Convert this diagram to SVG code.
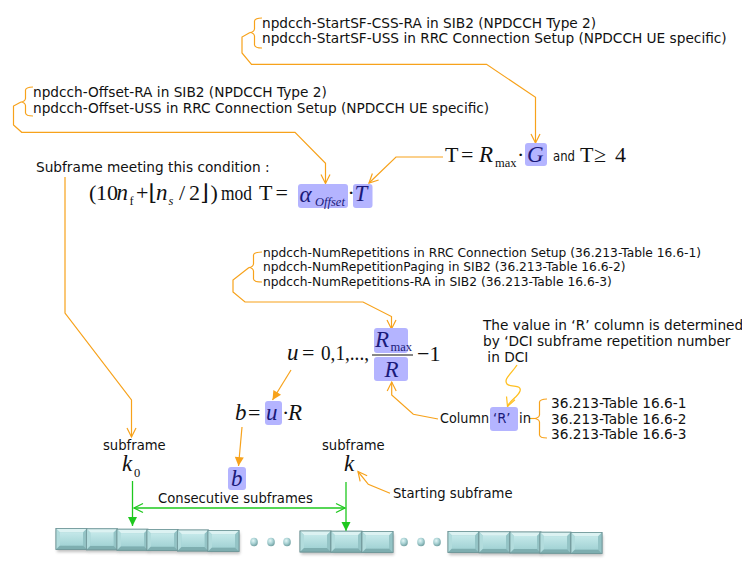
<svg xmlns="http://www.w3.org/2000/svg" xmlns:xlink="http://www.w3.org/1999/xlink" width="742" height="562" viewBox="0 0 742 562">
<style>
.t{font-family:"DejaVu Sans",Verdana,sans-serif;font-size:13.7px;fill:#111}
.tn{font-family:"DejaVu Sans",Verdana,sans-serif;font-size:13.2px;fill:#111}
.ts{font-family:"DejaVu Sans",Verdana,sans-serif;font-size:12.25px;fill:#111}
.m{font-family:"Liberation Serif","DejaVu Serif",serif;font-size:22px;fill:#111}
.mi{font-family:"Liberation Serif","DejaVu Serif",serif;font-size:23px;font-style:italic;fill:#111}
.mb{font-family:"Liberation Serif","DejaVu Serif",serif;font-size:23px;font-style:italic;fill:#1a1a7a}
.sub{font-family:"Liberation Serif","DejaVu Serif",serif;font-size:12.5px;fill:#111}
.hl{fill:#b4b4ff}
.oc{fill:none;stroke:#f7a21b;stroke-width:1.2}
.gc{fill:none;stroke:#1ec81e;stroke-width:1.3}
</style>
<defs>
<marker id="ao" markerUnits="userSpaceOnUse" markerWidth="14" markerHeight="14" viewBox="-2 -7 14 14" refX="9" refY="0" orient="auto"><path d="M0,-4.5 L9,0 L0,4.5" fill="none" stroke="#f7a21b" stroke-width="1.2"/></marker>
<marker id="af" markerUnits="userSpaceOnUse" markerWidth="14" markerHeight="14" viewBox="-2 -7 14 14" refX="9" refY="0" orient="auto"><path d="M0,-4.5 L9,0 L0,4.5 Z" fill="#f7a21b"/></marker>
<marker id="ay" markerUnits="userSpaceOnUse" markerWidth="14" markerHeight="14" viewBox="-2 -7 14 14" refX="9" refY="0" orient="auto"><path d="M0,-4.5 L9,0 L0,4.5" fill="none" stroke="#ffbf1f" stroke-width="1.2"/></marker>
<marker id="go" markerUnits="userSpaceOnUse" markerWidth="14" markerHeight="14" viewBox="-2 -7 14 14" refX="9" refY="0" orient="auto-start-reverse"><path d="M0,-4.5 L9,0 L0,4.5" fill="none" stroke="#1ec81e" stroke-width="1.3"/></marker>
<marker id="gf" markerUnits="userSpaceOnUse" markerWidth="14" markerHeight="14" viewBox="-2 -7 14 14" refX="9" refY="0" orient="auto"><path d="M0,-4.5 L9,0 L0,4.5 Z" fill="#1ec81e"/></marker>
<linearGradient id="face" x1="0" y1="0" x2="0" y2="1"><stop offset="0" stop-color="#c4e8e9"/><stop offset="1" stop-color="#a3d3d5"/></linearGradient>
<radialGradient id="dot" cx="0.4" cy="0.35" r="0.7"><stop offset="0" stop-color="#e4f6f6"/><stop offset="0.5" stop-color="#a9d2d4"/><stop offset="1" stop-color="#6b9a9c"/></radialGradient>
<filter id="sh" x="-20%" y="-20%" width="140%" height="160%"><feGaussianBlur stdDeviation="1.5"/></filter>
<g id="blk">
<rect x="1" y="2.5" width="31" height="21" fill="#808080" opacity="0.5" filter="url(#sh)"/>
<rect x="0" y="0" width="31" height="21" fill="#9fcfd1" stroke="#6f9698" stroke-width="0.8"/>
<polygon points="0,0 31,0 27,4 4,4" fill="#dcf2f2"/>
<polygon points="0,0 4,4 4,17 0,21" fill="#b2dcdd"/>
<polygon points="31,0 27,4 27,17 31,21" fill="#94c4c6"/>
<polygon points="0,21 4,17 27,17 31,21" fill="#7eaeb0"/>
<rect x="4" y="4" width="23" height="13" fill="url(#face)"/>
<rect x="0" y="0" width="31" height="21" fill="none" stroke="#6f9698" stroke-width="0.8"/>
</g>
</defs>
<rect width="742" height="562" fill="#ffffff"/>

<g id="connectors">
<path class="oc" d="M262,18 Q255,18 254.5,21 L254.5,29 Q254,32 250,32.5 Q254,33 254.5,36 L254.5,45 Q255,48 262,48"/>
<path class="oc" d="M250,32.5 L242,37 L242,53 L251.5,64.3 L486.5,64.3 L535.5,97.3 L535.5,143" marker-end="url(#ao)"/>
<path class="oc" d="M33,87 Q26,87 25.5,90 L25.5,98.5 Q25,101.5 21,102 Q25,102.5 25.5,105.5 L25.5,113 Q26,116 33,116"/>
<path class="oc" d="M21,102 L13.5,106 L13.5,125 L21.7,132.3 L295,132.3 L325.5,163.3 L325.5,183.5" marker-end="url(#ao)"/>
<path class="oc" d="M443,157 L396,157 L369,183" marker-end="url(#ao)"/>
<path class="oc" d="M65,177 L65,313 L131.5,400 L131.5,437" marker-end="url(#ao)"/>
<path class="oc" d="M262,252 Q254,252 253.5,255 L253.5,264 Q253,267 249,267.5 Q253,268 253.5,271 L253.5,279 Q254,282 262,282"/>
<path class="oc" d="M249,267.5 L233,280 L233,292 L245,302 L363,302 L391.5,316.5 L391.5,329" marker-end="url(#ao)"/>
<path class="oc" d="M291,370 L272.5,400" marker-end="url(#af)"/>
<path class="oc" d="M242,427 L238.5,466" marker-end="url(#af)"/>
<path class="oc" d="M438,419 L413.3,414.3 L391.7,395 L391.7,382" marker-end="url(#ao)"/>
<path class="oc" d="M547,399 Q540,399 539.5,402 L539.5,415 Q539,418 534,418.5 Q539,419 539.5,422 L539.5,435 Q540,438 547,438"/>
<path class="oc" d="M529,418.5 L534,418.5"/>
<path d="M517,365 C512,373 503,379 507,384 C511,388 522,384 520,391 C518,397 510,400 507.5,406.5" fill="none" stroke="#ffbf1f" stroke-width="1.3" marker-end="url(#ay)"/>
<path class="oc" d="M390,493.3 L368.3,484.3 L358,471.5" marker-end="url(#ao)"/>
<path class="gc" d="M132.5,481 L132.5,526" marker-end="url(#gf)"/>
<path class="gc" d="M346,482 L346,531" marker-end="url(#gf)"/>
<path class="gc" d="M134,508 L345,508" marker-start="url(#go)" marker-end="url(#go)"/>
</g>

<g id="startsf-note">
<text class="t" x="262" y="27.5">npdcch-StartSF-CSS-RA in SIB2 (NPDCCH Type 2)</text>
<text class="t" x="262" y="43">npdcch-StartSF-USS in RRC Connection Setup (NPDCCH UE specific)</text>
</g>
<g id="offset-note">
<text class="t" x="33" y="97.3">npdcch-Offset-RA in SIB2 (NPDCCH Type 2)</text>
<text class="t" x="33" y="113.3">npdcch-Offset-USS in RRC Connection Setup (NPDCCH UE specific)</text>
</g>

<g id="formula-T">
<text class="m" x="445" y="162">T</text>
<text class="m" x="461" y="162">=</text>
<text class="mi" x="479" y="162">R</text>
<text class="sub" x="495" y="167">max</text>
<text class="m" x="517" y="162">·</text>
<rect class="hl" x="525" y="143" width="22" height="23" rx="3"/>
<text class="mb" x="527" y="162">G</text>
<text class="tn" x="553" y="161" textLength="22" lengthAdjust="spacingAndGlyphs">and</text>
<text class="m" x="580" y="162">T</text>
<text class="m" x="594" y="162">≥</text>
<text class="m" x="615" y="162">4</text>
</g>

<g id="condition">
<text class="t" x="36" y="171.5">Subframe meeting this condition :</text>
<text class="m" x="89" y="200" font-size="21">(</text>
<text class="m" x="96" y="200" font-size="20">10</text>
<text class="mi" x="116.5" y="200">n</text>
<text class="sub" x="129.5" y="204.5">f</text>
<text class="m" x="136" y="200">+</text>
<text class="m" x="148.5" y="200">⌊</text>
<text class="mi" x="156" y="200">n</text>
<text class="sub" x="168.5" y="204.5" font-style="italic">s</text>
<text class="m" x="179" y="200">/</text>
<text class="m" x="189" y="200">2</text>
<text class="m" x="200" y="200">⌋</text>
<text class="m" x="210.5" y="200">)</text>
<text class="m" x="221" y="200" textLength="31" lengthAdjust="spacingAndGlyphs">mod</text>
<text class="m" x="259" y="200">T</text>
<text class="m" x="275.5" y="200">=</text>
<rect class="hl" x="298" y="184" width="50" height="24" rx="3"/>
<text class="mb" x="299.5" y="202">α</text>
<text class="sub" x="315" y="206" font-style="italic" style="fill:#1a1a7a">Offset</text>
<text class="m" x="347.5" y="200">·</text>
<rect class="hl" x="353" y="184" width="19.5" height="24" rx="3"/>
<text class="mb" x="354.5" y="201">T</text>
</g>

<g id="numrep-note">
<text class="ts" x="263" y="256.7">npdcch-NumRepetitions in RRC Connection Setup (36.213-Table 16.6-1)</text>
<text class="ts" x="263" y="270.7">npdcch-NumRepetitionPaging in SIB2 (36.213-Table 16.6-2)</text>
<text class="ts" x="263" y="285.7">npdcch-NumRepetitions-RA in SIB2 (36.213-Table 16.6-3)</text>
</g>

<g id="formula-u">
<text class="mi" x="287" y="360">u</text>
<text class="m" x="302" y="360">=</text>
<text class="m" x="321" y="360" textLength="48" lengthAdjust="spacingAndGlyphs">0,1,...,</text>
<rect class="hl" x="374" y="328" width="34" height="25" rx="3"/>
<text class="mb" x="375" y="347">R</text>
<text class="sub" x="390.5" y="351" style="fill:#1a1a7a">max</text>
<line x1="372" y1="355" x2="413" y2="355" stroke="#111" stroke-width="1.2"/>
<rect class="hl" x="374" y="357" width="34" height="24" rx="3"/>
<text class="mb" x="384.5" y="377">R</text>
<text class="m" x="417" y="361">−1</text>
</g>

<g id="dci-note">
<text class="t" x="483" y="330">The value in ‘R’ column is determined</text>
<text class="t" x="483" y="346">by ‘DCI subframe repetition number</text>
<text class="t" x="483" y="362" xml:space="preserve"> in DCI</text>
</g>

<g id="column-r">
<rect class="hl" x="490" y="407" width="28" height="24" rx="3"/>
<text class="tn" x="440" y="423" textLength="49" lengthAdjust="spacingAndGlyphs">Column</text>
<text class="tn" x="493" y="423" style="fill:#1a1a7a">‘R’</text>
<text class="tn" x="519" y="423">in</text>
</g>

<g id="tables">
<text class="t" x="551" y="408">36.213-Table 16.6-1</text>
<text class="t" x="551" y="423.5">36.213-Table 16.6-2</text>
<text class="t" x="551" y="439">36.213-Table 16.6-3</text>
</g>

<g id="formula-b">
<text class="mi" x="235" y="420">b</text>
<text class="m" x="248" y="420">=</text>
<rect class="hl" x="265" y="401" width="17" height="24" rx="3"/>
<text class="mb" x="266" y="420">u</text>
<text class="m" x="282" y="420">·</text>
<text class="mi" x="288" y="420">R</text>
</g>

<g id="subframe-k0">
<text class="tn" x="103" y="450">subframe</text>
<text class="mi" x="122" y="471">k</text>
<text class="sub" x="134" y="477" font-size="14">0</text>
</g>

<g id="b-box">
<rect class="hl" x="228" y="467" width="18" height="23" rx="3"/>
<text class="mb" x="231" y="486">b</text>
</g>

<g id="subframe-k">
<text class="tn" x="322" y="450">subframe</text>
<text class="mi" x="344" y="471">k</text>
</g>

<g id="starting-label">
<text class="tn" x="393" y="498">Starting subframe</text>
</g>

<g id="consecutive-label">
<text class="tn" x="158" y="502.5">Consecutive subframes</text>
</g>

<g id="subframe-row">
<use xlink:href="#blk" x="56" y="528.5"/>
<use xlink:href="#blk" x="86.5" y="528.8"/>
<use xlink:href="#blk" x="117" y="529.2"/>
<use xlink:href="#blk" x="147" y="529.6"/>
<use xlink:href="#blk" x="177.5" y="530"/>
<use xlink:href="#blk" x="208" y="530.4"/>
<ellipse cx="254" cy="542" rx="3.8" ry="4.3" fill="url(#dot)"/>
<ellipse cx="271" cy="542" rx="3.8" ry="4.3" fill="url(#dot)"/>
<ellipse cx="287" cy="542" rx="3.8" ry="4.3" fill="url(#dot)"/>
<use xlink:href="#blk" x="300" y="531"/>
<use xlink:href="#blk" x="331" y="531.2"/>
<use xlink:href="#blk" x="362" y="531.4"/>
<ellipse cx="404" cy="542" rx="3.8" ry="4.3" fill="url(#dot)"/>
<ellipse cx="421" cy="542" rx="3.8" ry="4.3" fill="url(#dot)"/>
<ellipse cx="437" cy="542" rx="3.8" ry="4.3" fill="url(#dot)"/>
<use xlink:href="#blk" x="448" y="531.6"/>
<use xlink:href="#blk" x="479" y="531.8"/>
<use xlink:href="#blk" x="510" y="532"/>
<use xlink:href="#blk" x="540" y="532.2"/>
<use xlink:href="#blk" x="571" y="532.4"/>
</g>
</svg>
